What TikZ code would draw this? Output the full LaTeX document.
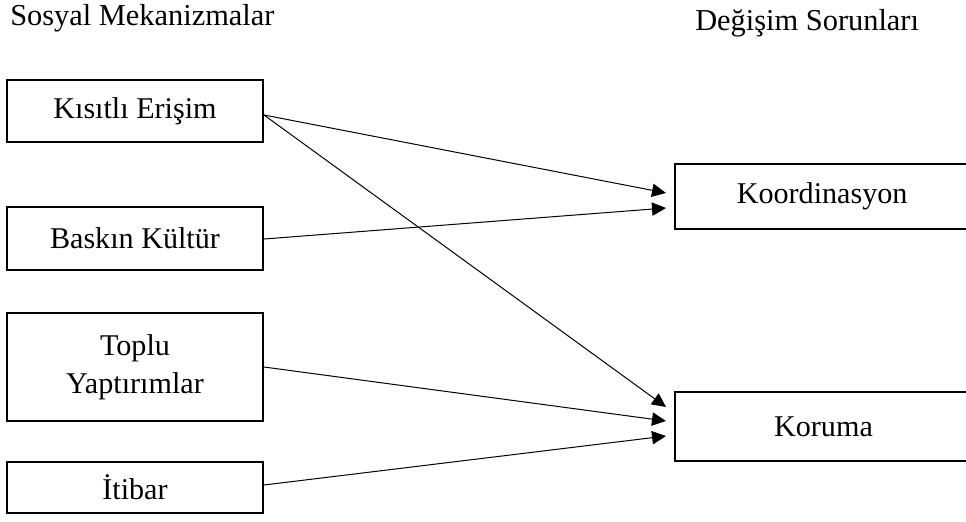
\documentclass[tikz,border=0pt]{standalone}
\usepackage{fontspec}
\setmainfont{Liberation Serif}
\usetikzlibrary{arrows.meta,calc}
\begin{document}
\begin{tikzpicture}[x=0.75pt,y=-0.75pt,
  box/.style={draw,line width=1.5pt,inner sep=0pt,align=center,
    font=\fontsize{22.6}{28.5}\selectfont},
  title/.style={inner sep=0pt,font=\fontsize{22.8}{26}\selectfont},
  conn/.style={line width=0.75pt,-{Triangle[length=10.5pt,width=10pt]}}]
\clip (0,0) rectangle (966,521);
\node[title,anchor=base west] (t1) at (10,25) {Sosyal Mekanizmalar};
\node[title,anchor=base west] (t2) at (695,30) {Değişim Sorunları};
\node[box,minimum width={256*0.75pt},minimum height={62*0.75pt}] (ke) at (135,111) {Kısıtlı Erişim};
\node[box,minimum width={256*0.75pt},minimum height={63*0.75pt}] (bk) at (135,238.5) {Baskın Kültür};
\node[box,minimum width={256*0.75pt},minimum height={108*0.75pt}] (ty) at (135,367) {Toplu\\Yaptırımlar};
\node[box,minimum width={256*0.75pt},minimum height={51*0.75pt}] (it) at (135,487.5) {İtibar};
\node[box,minimum width={305*0.75pt},minimum height={65*0.75pt},text width={298*0.75pt}] (ko) at (827.5,196.5) {\hspace*{-8pt}Koordinasyon};
\node[box,minimum width={305*0.75pt},minimum height={69*0.75pt},text width={298*0.75pt}] (kr) at (827.5,426.5) {\hspace*{-6pt}Koruma};
\draw[conn] ($(ke.east)+(0,4)$) -- ($(ko.west)+(-8,-3.5)$);
\draw[conn] ($(bk.east)+(0,0.5)$) -- ($(ko.west)+(-8,11.5)$);
\draw[conn] ($(ke.east)+(0,4)$) -- ($(kr.west)+(-8,-19.5)$);
\draw[conn] (ty.east) -- ($(kr.west)+(-8,-5.5)$);
\draw[conn] ($(it.east)+(0,-2.5)$) -- ($(kr.west)+(-8,9.5)$);
\end{tikzpicture}
\end{document}
